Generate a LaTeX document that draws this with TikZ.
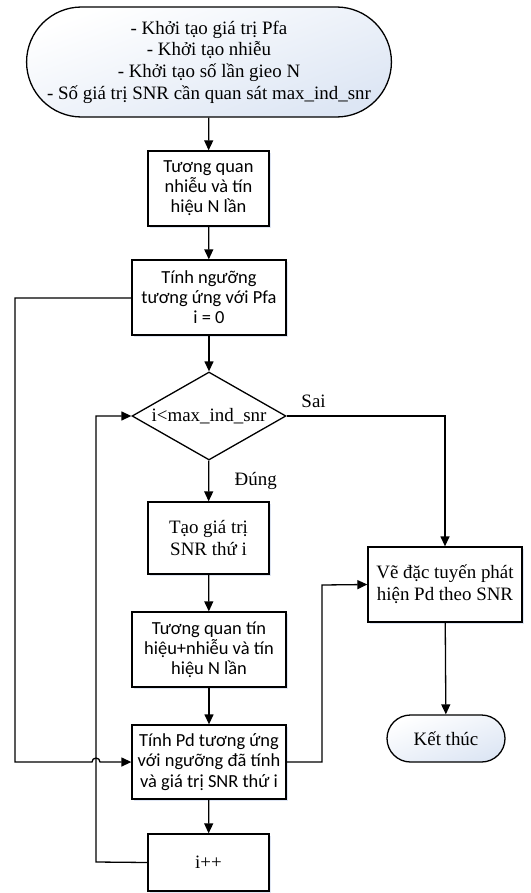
\documentclass[tikz,border=0pt]{standalone}
\usepackage{fontspec}
\setmainfont{Liberation Serif}
\newfontfamily\calibri{Carlito}
\definecolor{TermBlue}{HTML}{DDE6F4}
\definecolor{ShadowBlue}{HTML}{C9D6EC}
\usetikzlibrary{arrows.meta, positioning, shapes.geometric, shapes.misc, shadows}

\begin{document}
\begin{tikzpicture}[x=1bp, y=1bp, >={Triangle[length=10bp, width=9bp]}, line width=1.3bp,
  procbox/.style={draw, rectangle, fill=white, inner sep=2bp, align=center,
                  drop shadow={fill=ShadowBlue, opacity=0.6, shadow xshift=1.5bp, shadow yshift=-2bp}},
  termbox/.style={draw, rounded rectangle, align=center, inner sep=2bp,
                  top color=white, bottom color=TermBlue, shading angle=20},
  decbox/.style={draw, diamond, aspect=1.75, inner sep=0pt, fill=white,
                 minimum width=154bp, minimum height=88bp},
  serif/.style={font=\fontsize{19}{21.7}\selectfont},
  sans/.style={font=\calibri\fontsize{18.5}{20.2}\selectfont},
  lbl/.style={font=\fontsize{19}{21}\selectfont}]
  \useasboundingbox (0,0) rectangle (531,-893);
  % Main column
  \node[termbox, serif, minimum width=362bp, minimum height=110bp] (start) at (209,-62)
    {- Khởi tạo giá trị Pfa\\ - Khởi tạo nhiễu\\ - Khởi tạo số lần gieo N\\ - Số giá trị SNR cần quan sát max\_ind\_snr};
  \node[procbox, sans, minimum width=121bp, minimum height=75bp] (tuongquan) at (208.5,-188.5)
    {Tương quan\\ nhiễu và tín\\ hiệu N lần};
  \node[procbox, sans, minimum width=154bp, minimum height=75bp] (nguong) at (209,-297.5)
    {Tính ngưỡng\\ tương ứng với Pfa\\ i = 0};
  \node[decbox, serif] (dieukien) at (209,-416) {i<max\_ind\_snr};
  \node[procbox, serif, minimum width=121bp, minimum height=72bp] (taosnr) at (208.5,-538)
    {Tạo giá trị\\ SNR thứ i};
  \node[procbox, sans, minimum width=154bp, minimum height=75bp] (tuongquansnr) at (209,-649.5)
    {Tương quan tín\\ hiệu+nhiễu và tín\\ hiệu N lần};
  \node[procbox, sans, minimum width=154bp, minimum height=74bp] (tinhpd) at (209,-762)
    {Tính Pd tương ứng\\ với ngưỡng đã tính\\ và giá trị SNR thứ i};
  \node[procbox, serif, minimum width=121bp, minimum height=57bp] (tang) at (208.5,-862.5) {i++};
  % Right column
  \node[procbox, serif, minimum width=154bp, minimum height=75bp] (vedt) at (445,-584.5)
    {Vẽ đặc tuyến phát\\ hiện Pd theo SNR};
  \node[termbox, serif, minimum width=122bp, minimum height=47bp] (ketthuc) at (446,-738.5) {Kết thúc};
  % Straight flow
  \draw[->] (start) -- (tuongquan);
  \draw[->] (tuongquan) -- (nguong);
  \draw[->] (nguong) -- (dieukien);
  \draw[->] (dieukien) -- node[right=22bp, lbl] {Đúng} (taosnr);
  \draw[->] (taosnr) -- (tuongquansnr);
  \draw[->] (tuongquansnr) -- (tinhpd);
  \draw[->] (tinhpd) -- (tang);
  \draw[->] (vedt) -- (ketthuc);
  % Sai branch
  \draw[->] (dieukien.east) -- node[above, pos=0.17, yshift=4bp, lbl] {Sai} (445,-416) -- (vedt.north);
  % Loops
  \draw[->] (tang.west) -- (96,-862) -- (96,-416) -- (dieukien.west);
  \draw[->] (nguong.west |- 0,-298) -- (15,-298) -- (15,-762) -- (92,-762) arc(180:0:4) -- (tinhpd.west);
  \draw[->] (tinhpd.east) -- (322,-762) -- (322,-585) -- (vedt.west);
\end{tikzpicture}
\end{document}
